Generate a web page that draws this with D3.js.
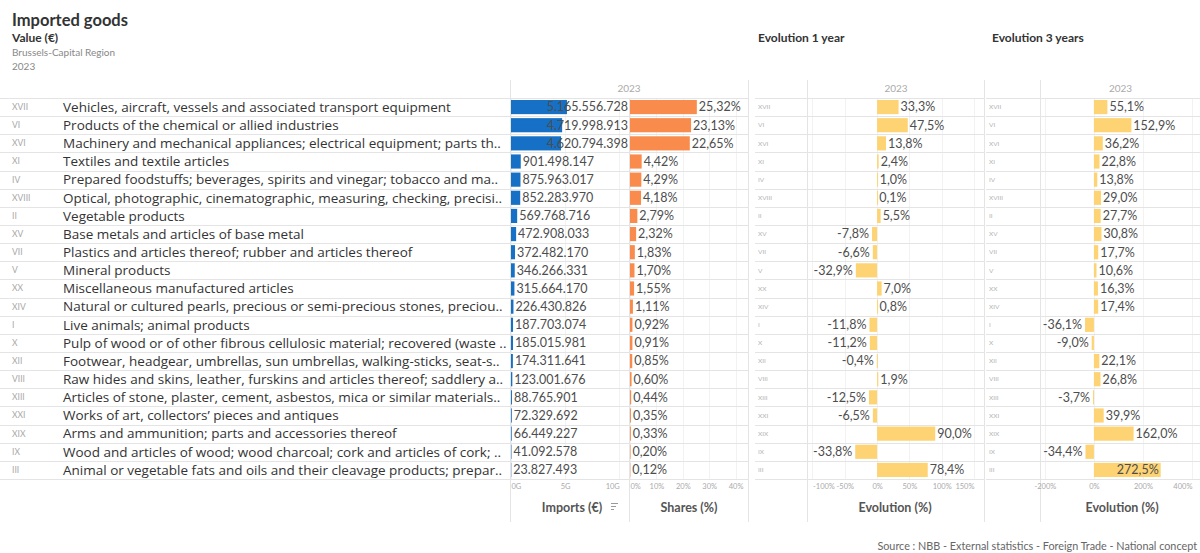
<!DOCTYPE html>
<html>
<head>
<meta charset="utf-8">
<script src="https://cdn.jsdelivr.net/npm/d3@7"></script>
<style>
  body { margin: 0; background: #fff; }
  svg { font-family: Lato, "Open Sans", sans-serif; }
</style>
</head>
<body>
<div id="vis"></div>
<script>
// data
var romans = ["XVII","VI","XVI","XI","IV","XVIII","II","XV","VII","V","XX","XIV","I","X","XII","VIII","XIII","XXI","XIX","IX","III"];
var categories = [
  "Vehicles, aircraft, vessels and associated transport equipment",
  "Products of the chemical or allied industries",
  "Machinery and mechanical appliances; electrical equipment; parts th..",
  "Textiles and textile articles",
  "Prepared foodstuffs; beverages, spirits and vinegar; tobacco and ma..",
  "Optical, photographic, cinematographic, measuring, checking, precisi..",
  "Vegetable products",
  "Base metals and articles of base metal",
  "Plastics and articles thereof; rubber and articles thereof",
  "Mineral products",
  "Miscellaneous manufactured articles",
  "Natural or cultured pearls, precious or semi-precious stones, preciou..",
  "Live animals; animal products",
  "Pulp of wood or of other fibrous cellulosic material; recovered (waste ..",
  "Footwear, headgear, umbrellas, sun umbrellas, walking-sticks, seat-s..",
  "Raw hides and skins, leather, furskins and articles thereof; saddlery a..",
  "Articles of stone, plaster, cement, asbestos, mica or similar materials..",
  "Works of art, collectors\u2019 pieces and antiques",
  "Arms and ammunition; parts and accessories thereof",
  "Wood and articles of wood; wood charcoal; cork and articles of cork; ..",
  "Animal or vegetable fats and oils and their cleavage products; prepar.."
];
var imports = [5165556728, 4719998913, 4620794398, 901498147, 875963017, 852283970, 569768716, 472908033,
  372482170, 346266331, 315664170, 226430826, 187703074, 185015981, 174311641, 123001676, 88765901,
  72329692, 66449227, 41092578, 23827493];
var shares = [25.32, 23.13, 22.65, 4.42, 4.29, 4.18, 2.79, 2.32, 1.83, 1.70, 1.55, 1.11, 0.92, 0.91, 0.85,
  0.60, 0.44, 0.35, 0.33, 0.20, 0.12];
var evol1 = [33.3, 47.5, 13.8, 2.4, 1.0, 0.1, 5.5, -7.8, -6.6, -32.9, 7.0, 0.8, -11.8, -11.2, -0.4, 1.9,
  -12.5, -6.5, 90.0, -33.8, 78.4];
var evol3 = [55.1, 152.9, 36.2, 22.8, 13.8, 29.0, 27.7, 30.8, 17.7, 10.6, 16.3, 17.4, -36.1, -9.0, 22.1,
  26.8, -3.7, 39.9, 162.0, -34.4, 272.5];
var importTicks = [0, 5e9, 10e9];
var shareTicks = [0, 10, 20, 30, 40];
var evol1Ticks = [-100, -50, 0, 50, 100, 150];
var evol3Ticks = [-200, 0, 200, 400];

var width = 1200, height = 553;
var rowTop = 98, rowBottom = 479, headTop = 80, colBottom = 522;
var grid = "#e4e4e4", textCol = "#4d4d4d", light = "#a8a8a8";

var locale = d3.formatLocale({decimal: ",", thousands: ".", grouping: [3], currency: ["€", ""], minus: "-"});
var fInt = locale.format(",.0f"), f2 = locale.format(".2f"), f1 = locale.format(".1f");

var svg = d3.select("#vis").append("svg")
  .attr("width", width)
  .attr("height", height);

var y = d3.scaleBand()
  .domain(d3.range(romans.length))
  .range([rowTop, rowBottom]);
var barH = y.bandwidth() * 0.78;

// titles
svg.append("text").attr("x", 12).attr("y", 26).attr("font-size", 16.5).attr("font-weight", 700)
  .attr("fill", "#333").text("Imported goods");
svg.append("text").attr("x", 12).attr("y", 42).attr("font-size", 12).attr("font-weight", 700)
  .attr("fill", "#333").text("Value (€)");
svg.append("text").attr("x", 12).attr("y", 56).attr("font-size", 10).attr("fill", "#888")
  .text("Brussels-Capital Region");
svg.append("text").attr("x", 12).attr("y", 70).attr("font-size", 10).attr("fill", "#888").text("2023");
svg.append("text").attr("x", 758).attr("y", 42).attr("font-size", 12).attr("font-weight", 700)
  .attr("fill", "#333").text("Evolution 1 year");
svg.append("text").attr("x", 992).attr("y", 42).attr("font-size", 12).attr("font-weight", 700)
  .attr("fill", "#333").text("Evolution 3 years");
svg.append("text").attr("x", 1197).attr("y", 550).attr("text-anchor", "end")
  .attr("font-size", 10.8).attr("fill", "#666")
  .text("Source : NBB - External statistics - Foreign Trade - National concept");

function rowLines(x0, x1) {
  svg.append("g").selectAll("line")
    .data(d3.range(romans.length + 1))
    .join("line")
    .attr("x1", x0).attr("x2", x1)
    .attr("y1", function(i) { return Math.round(rowTop + i * y.step()) + 0.5; })
    .attr("y2", function(i) { return Math.round(rowTop + i * y.step()) + 0.5; })
    .attr("stroke", grid);
}
function vline(x, y0, y1) {
  svg.append("line").attr("x1", x + 0.5).attr("x2", x + 0.5).attr("y1", y0).attr("y2", y1)
    .attr("stroke", grid);
}
function gridLines(scale, ticks) {
  svg.append("g").selectAll("line")
    .data(ticks)
    .join("line")
    .attr("x1", function(d) { return Math.round(scale(d)) + 0.5; })
    .attr("x2", function(d) { return Math.round(scale(d)) + 0.5; })
    .attr("y1", rowTop).attr("y2", rowBottom)
    .attr("stroke", "#f2f2f2");
}
function axis(scale, ticks, fmt) {
  var g = svg.append("g")
    .attr("transform", "translate(0," + (rowBottom + 5) + ")")
    .call(d3.axisBottom(scale).tickValues(ticks).tickFormat(fmt).tickSize(0).tickPadding(0));
  g.select(".domain").remove();
  g.selectAll("text").attr("font-size", 7.5).attr("fill", "#aaa").attr("font-family", "Lato, sans-serif");
  return g;
}

// ---------- main table ----------
var xImp = d3.scaleLinear().domain([0, 10.8e9]).range([511, 628]);
var xShare = d3.scaleLinear().domain([0, 44.7]).range([630, 748]);

gridLines(xImp, importTicks);
gridLines(xShare, shareTicks);
rowLines(0, 749);
vline(510, headTop, colBottom);
vline(629, rowTop, colBottom);
vline(748, headTop, colBottom);

svg.append("text").attr("x", 629).attr("y", 92).attr("text-anchor", "middle")
  .attr("font-size", 10).attr("fill", "#aaa").text("2023");

var rows = svg.append("g");
rows.selectAll(".roman")
  .data(romans)
  .join("text")
  .attr("class", "roman")
  .attr("x", 12)
  .attr("y", function(d, i) { return y(i) + y.bandwidth() / 2; })
  .attr("dy", "0.35em")
  .attr("font-size", 8.5)
  .attr("fill", light)
  .text(function(d) { return d; });

rows.selectAll(".cat")
  .data(categories)
  .join("text")
  .attr("class", "cat")
  .attr("x", 63)
  .attr("y", function(d, i) { return y(i) + y.bandwidth() / 2; })
  .attr("dy", "0.35em")
  .attr("font-size", 13.5)
  .attr("font-family", "'Open Sans', sans-serif")
  .attr("fill", "#333")
  .text(function(d) { return d; });

svg.append("g").selectAll("rect")
  .data(imports)
  .join("rect")
  .attr("x", xImp(0))
  .attr("y", function(d, i) { return y(i) + (y.bandwidth() - barH) / 2; })
  .attr("width", function(d) { return xImp(d) - xImp(0); })
  .attr("height", barH)
  .attr("fill", "#1570c6");

svg.append("g").selectAll("text")
  .data(imports)
  .join("text")
  .attr("x", function(d) { return xImp(d) + 2; })
  .attr("y", function(d, i) { return y(i) + y.bandwidth() / 2; })
  .attr("dy", "0.35em")
  .attr("font-size", 12.5)
  .attr("fill", textCol)
  .text(function(d) { return fInt(d); })
  .each(function() {
    var t = d3.select(this), w = this.getComputedTextLength();
    if (+t.attr("x") + w > 628) t.attr("x", 628).attr("text-anchor", "end");
  });

svg.append("g").selectAll("rect")
  .data(shares)
  .join("rect")
  .attr("x", xShare(0))
  .attr("y", function(d, i) { return y(i) + (y.bandwidth() - barH) / 2; })
  .attr("width", function(d) { return xShare(d) - xShare(0); })
  .attr("height", barH)
  .attr("fill", "#f98c4c");

svg.append("g").selectAll("text")
  .data(shares)
  .join("text")
  .attr("x", function(d) { return xShare(d) + 2; })
  .attr("y", function(d, i) { return y(i) + y.bandwidth() / 2; })
  .attr("dy", "0.35em")
  .attr("font-size", 12.5)
  .attr("fill", textCol)
  .text(function(d) { return f2(d) + "%"; });

axis(xImp, importTicks, function(d) { return (d / 1e9) + "G"; })
  .selectAll("text").attr("text-anchor", function(d, i) { return i == 0 ? "start" : (i == importTicks.length - 1 ? "end" : "middle"); });
axis(xShare, shareTicks, function(d) { return d + "%"; })
  .selectAll("text").attr("text-anchor", function(d, i) { return i == 0 ? "start" : "middle"; });

svg.append("text").attr("x", 572).attr("y", 512).attr("text-anchor", "middle")
  .attr("font-size", 12.5).attr("font-weight", 700).attr("fill", "#555").text("Imports (€)");
// little sort icon next to the title
var icon = svg.append("g").attr("transform", "translate(611,503)").attr("stroke", "#999");
icon.append("line").attr("x1", 0).attr("x2", 7).attr("y1", 0.5).attr("y2", 0.5);
icon.append("line").attr("x1", 0).attr("x2", 5).attr("y1", 3.5).attr("y2", 3.5);
icon.append("line").attr("x1", 0).attr("x2", 3).attr("y1", 6.5).attr("y2", 6.5);
svg.append("text").attr("x", 689).attr("y", 512).attr("text-anchor", "middle")
  .attr("font-size", 12.5).attr("font-weight", 700).attr("fill", "#555").text("Shares (%)");

// ---------- evolution panels ----------
function evolPanel(values, x0, xPlot, x1, scale, ticks, tickAnchors, titleX) {
  gridLines(scale, ticks);
  rowLines(x0, x1);
  vline(xPlot - 1, headTop, colBottom);
  if (x1 < width) vline(x1, headTop, colBottom);

  svg.append("text").attr("x", (xPlot + Math.min(x1, width)) / 2).attr("y", 92).attr("text-anchor", "middle")
    .attr("font-size", 10).attr("fill", "#aaa").text("2023");

  svg.append("g").selectAll("text")
    .data(romans)
    .join("text")
    .attr("x", x0 + 3)
    .attr("y", function(d, i) { return y(i) + y.bandwidth() / 2; })
    .attr("dy", "0.35em")
    .attr("font-size", 6.5)
    .attr("fill", "#b3b3b3")
    .text(function(d) { return d; });

  svg.append("g").selectAll("rect")
    .data(values)
    .join("rect")
    .attr("x", function(d) { return scale(Math.min(0, d)); })
    .attr("y", function(d, i) { return y(i) + (y.bandwidth() - barH) / 2; })
    .attr("width", function(d) { return Math.max(1, Math.abs(scale(d) - scale(0))); })
    .attr("height", barH)
    .attr("fill", "#fdd373");

  svg.append("g").selectAll("text")
    .data(values)
    .join("text")
    .attr("x", function(d) { return d < 0 ? scale(d) - 3 : scale(d) + 2; })
    .attr("text-anchor", function(d) { return d < 0 ? "end" : "start"; })
    .attr("y", function(d, i) { return y(i) + y.bandwidth() / 2; })
    .attr("dy", "0.35em")
    .attr("font-size", 12.5)
    .attr("fill", textCol)
    .text(function(d) { return f1(d) + "%"; })
    .each(function(d) {
      var t = d3.select(this), w = this.getComputedTextLength();
      if (d >= 0 && scale(d) + 2 + w > Math.min(x1, width) - 2) t.attr("x", scale(d) - 2).attr("text-anchor", "end");
    });

  axis(scale, ticks, function(d) { return d + "%"; })
    .selectAll("text").attr("text-anchor", function(d, i) { return tickAnchors[i]; });

  svg.append("text").attr("x", titleX).attr("y", 512)
    .attr("text-anchor", "middle")
    .attr("font-size", 12.5).attr("font-weight", 700).attr("fill", "#555").text("Evolution (%)");
}

var xEv1 = d3.scaleLinear().domain([-108.5, 164]).range([807, 983]);
var xEv3 = d3.scaleLinear().domain([-220, 433]).range([1040, 1200]);

evolPanel(evol1, 755, 808, 984, xEv1, evol1Ticks, ["start", "middle", "middle", "middle", "middle", "end"], 895);
evolPanel(evol3, 986, 1041, 1210, xEv3, evol3Ticks, ["middle", "middle", "middle", "end"], 1122);
</script>
</body>
</html>
